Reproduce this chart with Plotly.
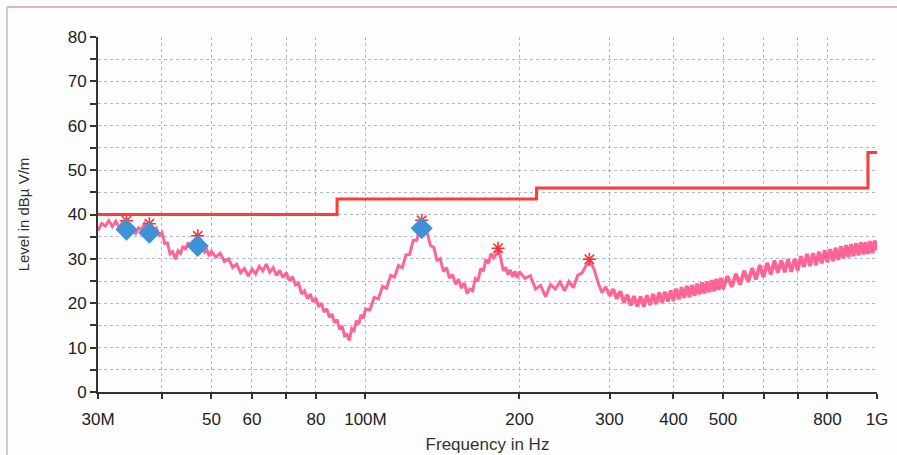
import plotly.graph_objects as go

# ---------------- data ----------------
freq_mhz = [
    30.0, 30.5, 31.0, 31.5, 32.0, 32.5, 33.0, 33.5, 34.0, 34.5, 35.0, 35.5, 36.0, 36.5, 37.0, 37.5,
    38.0, 38.5, 39.0, 39.5, 40.0, 40.5, 41.0, 41.5, 42.0, 42.5, 43.0, 43.5, 44.0, 44.5, 45.0, 45.5,
    46.0, 46.5, 47.0, 47.5, 48.0, 48.5, 49.0, 49.5, 50.0,
    51, 52, 53, 54, 55, 56, 57, 58, 59, 60, 61, 62, 63, 64, 65, 66, 67, 68, 69, 70,
    71, 72, 73, 74, 75, 76, 77, 78, 79, 80, 81, 82, 83, 84, 85, 86, 87, 88, 89, 90,
    91, 92, 93, 94, 95, 96, 97, 98, 99, 100,
    102, 104, 106, 108, 110, 112, 114, 116, 118, 120, 122, 124, 126, 128, 130, 132, 134, 136, 138, 140,
    142, 144, 146, 148, 150, 152, 154, 156, 158, 160, 162, 164, 166, 168, 170, 172, 174, 176, 178, 180,
    182, 184, 186, 188, 190, 192, 194, 196, 198, 200,
    205, 210, 215, 220, 225, 230, 235, 240, 245, 250, 255, 260, 265, 270, 275, 280, 285, 290, 295, 300,
    305, 310, 315, 320, 325, 330, 335, 340, 345, 350, 355, 360, 365, 370, 375, 380, 385, 390, 395, 400,
    405, 410, 415, 420, 425, 430, 435, 440, 445, 450, 455, 460, 465, 470, 475, 480, 485, 490, 495, 500,
    510, 520, 530, 540, 550, 560, 570, 580, 590, 600, 610, 620, 630, 640, 650, 660, 670, 680, 690, 700,
    710, 720, 730, 740, 750, 760, 770, 780, 790, 800, 810, 820, 830, 840, 850, 860, 870, 880, 890, 900,
    910, 920, 930, 940, 950, 960, 970, 980, 990, 1000,
]
level_dbuv = [
    36.4, 38.0, 37.4, 38.6, 37.3, 38.5, 37.1, 38.2, 38.4, 36.3, 37.0, 35.6, 37.0, 36.5, 38.0, 37.2,
    38.0, 36.2, 36.9, 35.3, 35.9, 33.5, 33.6, 31.1, 31.6, 29.9, 31.8, 31.2, 32.9, 32.1, 33.7, 32.7,
    34.1, 33.1, 34.6, 32.9, 33.4, 31.5, 32.0, 30.6, 31.7,
    30.4, 31.3, 29.4, 30.0, 28.1, 28.8, 26.9, 27.8, 26.1, 27.7, 26.6, 28.3, 27.3, 28.8, 27.0, 28.0,
    26.3, 27.4, 25.8, 26.9,
    25.1, 26.0, 24.1, 24.5, 22.1, 22.8, 21.0, 22.1, 20.3, 21.2, 19.2, 20.0, 18.0, 18.8, 16.8, 17.6,
    15.6, 16.3, 14.1, 14.9,
    12.7, 13.0, 11.6, 14.3, 13.9, 16.1, 15.3, 17.4, 16.6, 18.7,
    18.5, 21.3, 21.0, 23.8, 23.4, 26.3, 25.9, 28.5, 28.0, 30.9, 31.0, 34.2, 34.2, 37.9, 35.6, 35.9,
    33.0, 32.6, 29.7, 30.1,
    27.2, 28.0, 25.7, 26.5, 24.3, 25.4, 23.4, 24.6, 22.2, 23.2, 22.8, 25.6, 25.2, 27.8, 27.2, 29.9,
    29.0, 31.2, 30.2, 31.0,
    32.3, 29.9, 27.3, 28.1, 26.4, 27.5, 25.9, 27.2, 25.7, 27.1,
    25.6, 26.2, 23.2, 24.0, 21.5, 24.2, 23.2, 24.8, 22.8, 24.9, 23.5, 26.3, 26.8, 28.5, 29.4, 27.6,
    24.6, 22.4, 23.7, 21.6,
    23.2, 21.0, 22.7, 20.2, 21.9, 19.5, 21.6, 19.3, 21.5, 19.2, 21.8, 19.6, 22.1, 19.8, 22.4, 20.1,
    22.6, 20.4, 22.9, 20.6,
    23.3, 20.9, 23.6, 21.2, 23.9, 21.4, 24.1, 21.7, 24.4, 22.0, 24.7, 22.2, 24.9, 22.5, 25.2, 22.7,
    25.5, 23.0, 25.7, 23.2,
    26.1, 23.7, 26.6, 24.2, 27.3, 24.8, 27.9, 25.4, 28.6, 25.9, 29.1, 26.5, 29.6, 26.9, 29.7, 27.0,
    29.9, 27.1, 30.0, 27.4,
    30.6, 28.2, 31.1, 28.4, 31.3, 28.6, 31.6, 29.0, 31.9, 29.2, 32.2, 29.5, 32.5, 29.8, 32.8, 30.1,
    33.1, 30.4, 33.3, 30.6,
    33.5, 30.8, 33.7, 31.0, 33.8, 31.1, 34.0, 31.3, 34.1, 31.9,
]

limit_freq_mhz = [30, 88, 88, 216, 216, 960, 960, 1000]
limit_level = [40.0, 40.0, 43.5, 43.5, 46.0, 46.0, 54.0, 54.0]

peak_freq_mhz = [34.1, 37.8, 47.0, 128.8, 181.6, 274.0]
peak_level = [38.6, 37.9, 35.2, 38.7, 32.4, 29.9]

final_freq_mhz = [34.1, 37.8, 47.0, 128.8]
final_level = [36.6, 35.9, 32.9, 36.9]

tick_freq_mhz = [30, 40, 50, 60, 70, 80, 100, 200, 300, 400, 500, 600, 700, 800, 1000]
tick_text = ["30M", "", "50", "60", "", "80", "100M", "200", "300", "400", "500", "", "", "800", "1G"]

# ---------------- figure ----------------
def to_hz(arr):
    return [v * 1e6 for v in arr]

split = freq_mhz.index(300)
fig = go.Figure()
fig.add_trace(go.Scatter(
    x=to_hz(freq_mhz[:split + 1]), y=level_dbuv[:split + 1], mode="lines",
    line=dict(color="#ff6496", width=3), hoverinfo="skip", showlegend=False))
fig.add_trace(go.Scatter(
    x=to_hz(freq_mhz[split:]), y=level_dbuv[split:], mode="lines",
    line=dict(color="#ff6496", width=3.8), hoverinfo="skip", showlegend=False))
fig.add_trace(go.Scatter(
    x=to_hz(peak_freq_mhz), y=peak_level, mode="markers",
    marker=dict(symbol="asterisk-open", size=11, color="#ff3030",
                line=dict(color="#ff3030", width=1.6)), showlegend=False))
fig.add_trace(go.Scatter(
    x=to_hz(final_freq_mhz), y=final_level, mode="markers",
    marker=dict(symbol="diamond", size=17, color="#3e92d8", line=dict(width=0)),
    showlegend=False))
fig.add_trace(go.Scatter(
    x=to_hz(limit_freq_mhz), y=limit_level, mode="lines",
    line=dict(color="#ff3a3a", width=3), showlegend=False))

grid_col = "#a9bad8"
fig.update_xaxes(
    type="log", range=[7.47712, 9.0], automargin=False,
    tickvals=to_hz(tick_freq_mhz), ticktext=tick_text,
    ticks="outside", ticklen=5, tickwidth=2, tickcolor="#333",
    ticklabelstandoff=6,
    showline=True, linecolor="#333", linewidth=2,
    showgrid=True, gridcolor=grid_col, griddash="dot", gridwidth=1,
    tickfont=dict(family="Liberation Sans, Arial", size=17, color="#222"),
    title=dict(text="Frequency in Hz", standoff=10,
               font=dict(family="Liberation Sans, Arial", size=17, color="#333")),
    zeroline=False,
)
fig.update_yaxes(
    range=[0, 80], dtick=10, tick0=0, automargin=False,
    ticks="outside", ticklen=6, tickwidth=2, tickcolor="#333",
    showline=True, linecolor="#333", linewidth=2,
    showgrid=True, gridcolor=grid_col, griddash="dot", gridwidth=1,
    minor=dict(dtick=5, ticks="outside", ticklen=6, tickwidth=2, tickcolor="#333",
               showgrid=True, gridcolor=grid_col, griddash="dot", gridwidth=1),
    tickfont=dict(family="Liberation Sans, Arial", size=17, color="#222"),
    title=dict(text="Level in dBµ V/m", standoff=34,
               font=dict(family="Liberation Sans, Arial", size=15, color="#333")),
    zeroline=False,
)

fig.update_layout(
    width=897, height=455,
    margin=dict(l=98, r=20, t=37, b=63),
    paper_bgcolor="#fdfdfd", plot_bgcolor="#fdfdfd",
    shapes=[
        dict(type="line", xref="paper", yref="paper", x0=-0.1168, x1=1.03,
             y0=1.0845, y1=1.0845, line=dict(color="#e6aecb", width=2)),
        dict(type="line", xref="paper", yref="paper", x0=-0.1168, x1=-0.1168,
             y0=1.0845, y1=-0.2, line=dict(color="#cccccc", width=2)),
    ],
)

fig.write_html("out.html")
